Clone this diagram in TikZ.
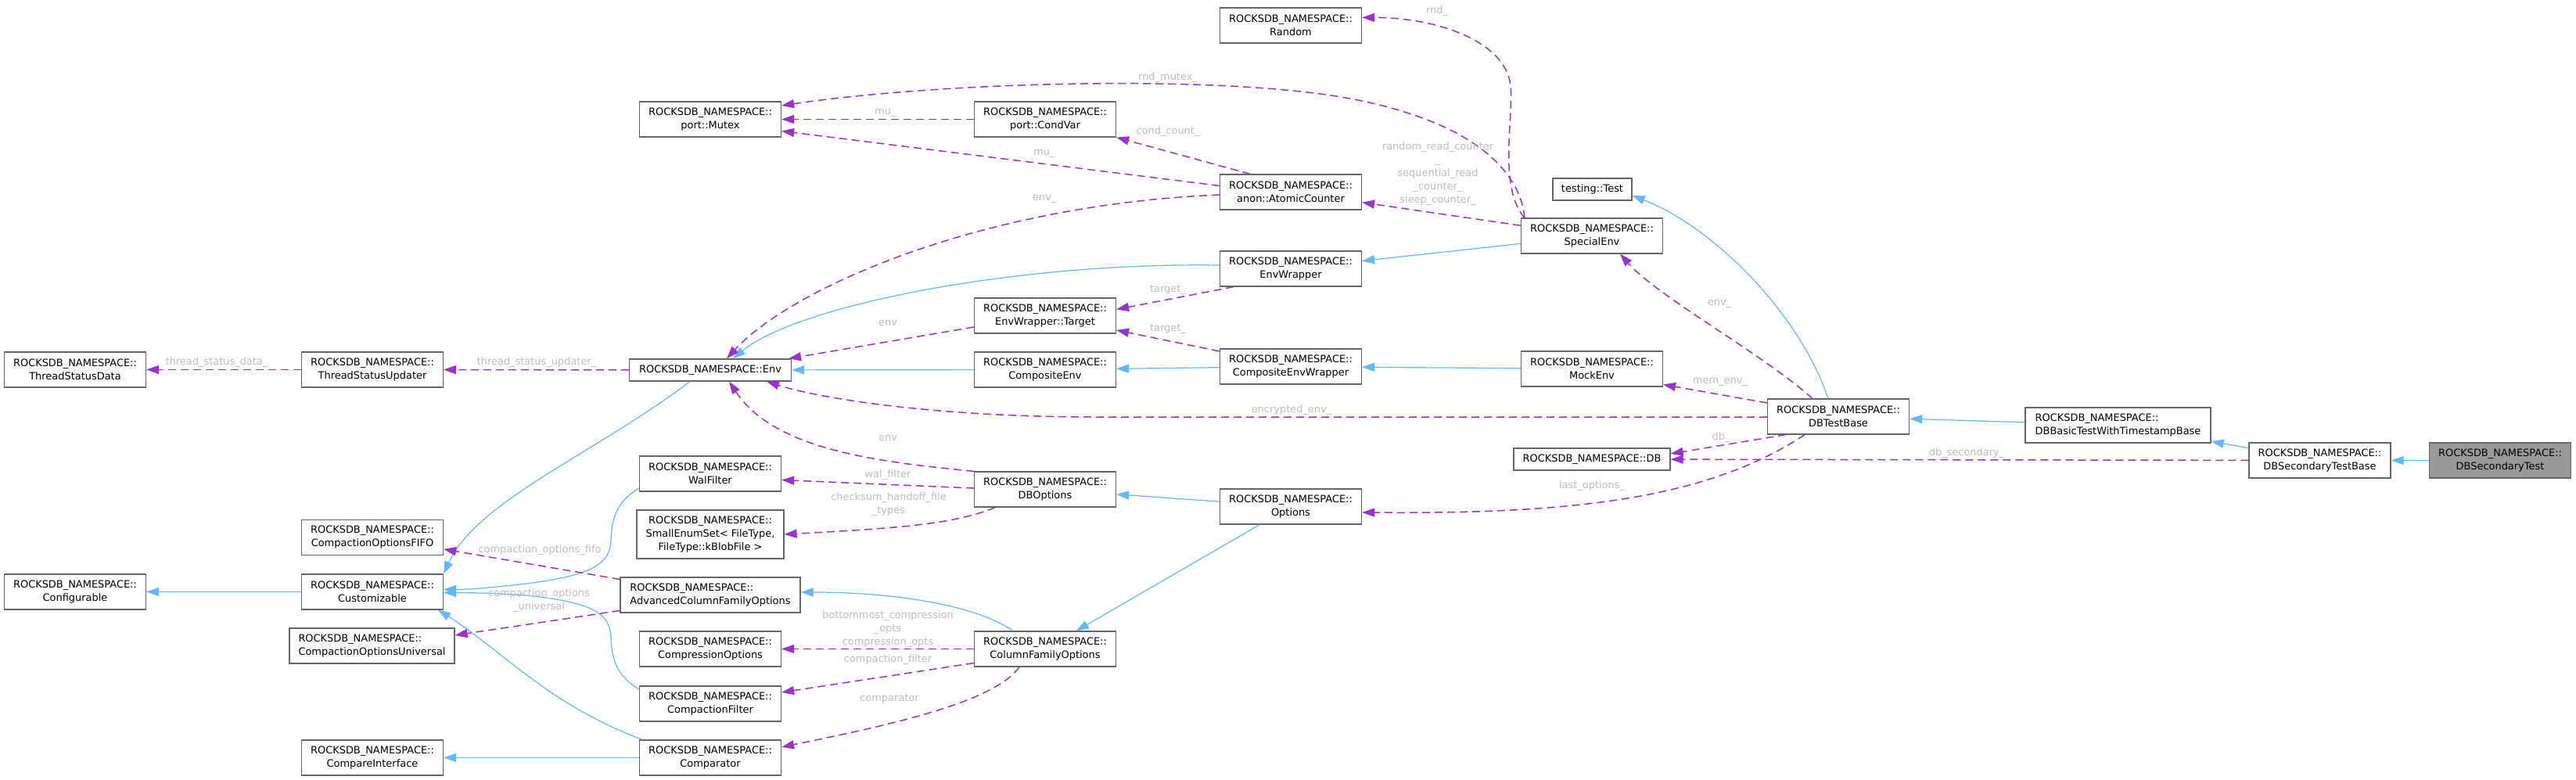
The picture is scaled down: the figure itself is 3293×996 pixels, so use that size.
\documentclass[tikz,border=0pt]{standalone}
\usepackage{fontspec}
\setmainfont{DejaVu Sans}
\usetikzlibrary{arrows.meta}
\definecolor{boxborder}{HTML}{666666}
\definecolor{inh}{HTML}{63B8FF}
\definecolor{usec}{HTML}{9A32CD}
\definecolor{lbl}{HTML}{BEBEBE}
\definecolor{selfill}{HTML}{999999}
\begin{document}
\begin{tikzpicture}[x=1pt,y=-1pt,
  cls/.style={draw=boxborder, line width=1.2pt, fill=white, minimum width=181pt, minimum height=45pt, inner sep=0pt, align=center, font=\fontsize{12.94}{17}\selectfont},
  one/.style={cls, minimum height=28pt},
  inhedge/.style={draw=inh, line width=1.2pt, -{Triangle[length=16pt,width=11pt]}},
  useedge/.style={draw=usec, line width=1.5pt, dash pattern=on 10pt off 6pt, -{Triangle[length=16pt,width=11pt]}},
  elabel/.style={text=lbl, inner sep=0pt, align=center, font=\fontsize{12.94}{17}\selectfont},
]
\fill[white] (0,0) rectangle (3293,996);
\useasboundingbox (0,0) rectangle (3293,996);

% nodes
\node[cls] (tsd) at (96,472.5) {ROCKSDB\_NAMESPACE::\\ThreadStatusData};
\node[cls] (tsu) at (476,472.5) {ROCKSDB\_NAMESPACE::\\ThreadStatusUpdater};
\node[one, minimum width=207pt] (env) at (908,473) {ROCKSDB\_NAMESPACE::Env};
\node[cls] (mutex) at (908,152.5) {ROCKSDB\_NAMESPACE::\\port::Mutex};
\node[cls] (random) at (1650,32.5) {ROCKSDB\_NAMESPACE::\\Random};
\node[cls] (condvar) at (1336,152.5) {ROCKSDB\_NAMESPACE::\\port::CondVar};
\node[cls] (atomic) at (1650,245.5) {ROCKSDB\_NAMESPACE::\\anon::AtomicCounter};
\node[cls] (special) at (2035,301.5) {ROCKSDB\_NAMESPACE::\\SpecialEnv};
\node[one, minimum width=101pt] (test) at (2035.5,242) {testing::Test};
\node[cls] (envwrap) at (1650,343.5) {ROCKSDB\_NAMESPACE::\\EnvWrapper};
\node[cls] (target) at (1336,403.5) {ROCKSDB\_NAMESPACE::\\EnvWrapper::Target};
\node[cls] (cew) at (1650,468.5) {ROCKSDB\_NAMESPACE::\\CompositeEnvWrapper};
\node[cls] (cenv) at (1336,472.5) {ROCKSDB\_NAMESPACE::\\CompositeEnv};
\node[cls] (mock) at (2035,471.5) {ROCKSDB\_NAMESPACE::\\MockEnv};
\node[cls] (walf) at (908,605.5) {ROCKSDB\_NAMESPACE::\\WalFilter};
\node[cls, minimum width=188pt, minimum height=62pt] (sset) at (908,683) {ROCKSDB\_NAMESPACE::\\SmallEnumSet< FileType,\\FileType::kBlobFile >};
\node[cls] (fifo) at (476,687) {ROCKSDB\_NAMESPACE::\\CompactionOptionsFIFO};
\node[cls] (conf) at (96,756.5) {ROCKSDB\_NAMESPACE::\\Configurable};
\node[cls] (cust) at (476,756.5) {ROCKSDB\_NAMESPACE::\\Customizable};
\node[cls, minimum width=230pt, align=left] (acfo) at (908,760.5) {ROCKSDB\_NAMESPACE::\\AdvancedColumnFamilyOptions};
\node[cls, minimum width=211pt, align=left] (univ) at (475.5,825.5) {ROCKSDB\_NAMESPACE::\\CompactionOptionsUniversal};
\node[cls] (compr) at (908,829.5) {ROCKSDB\_NAMESPACE::\\CompressionOptions};
\node[cls] (cfilt) at (908,899.5) {ROCKSDB\_NAMESPACE::\\CompactionFilter};
\node[cls] (cmpi) at (476,968.5) {ROCKSDB\_NAMESPACE::\\CompareInterface};
\node[cls] (cmp) at (908,968.5) {ROCKSDB\_NAMESPACE::\\Comparator};
\node[one, minimum width=200pt] (db) at (2035,587) {ROCKSDB\_NAMESPACE::DB};
\node[cls] (dbopt) at (1336,625.5) {ROCKSDB\_NAMESPACE::\\DBOptions};
\node[cls] (opts) at (1650,647.5) {ROCKSDB\_NAMESPACE::\\Options};
\node[cls] (cfo) at (1336,829.5) {ROCKSDB\_NAMESPACE::\\ColumnFamilyOptions};
\node[cls] (dbtb) at (2350,532.5) {ROCKSDB\_NAMESPACE::\\DBTestBase};
\node[cls, minimum width=237pt, align=left] (dbbt) at (2707.5,543.5) {ROCKSDB\_NAMESPACE::\\DBBasicTestWithTimestampBase};
\node[cls] (dbstb) at (2965.5,588.5) {ROCKSDB\_NAMESPACE::\\DBSecondaryTestBase};
\node[cls, fill=selfill] (dbst) at (3196,588.5) {ROCKSDB\_NAMESPACE::\\DBSecondaryTest};

% inheritance edges
\draw[inhedge] (cust) -- (conf);
\draw[inhedge] (cmp) -- (cmpi);
\draw[inhedge] (cenv) -- (env);
\draw[inhedge] (cew) -- (cenv);
\draw[inhedge] (mock) -- (cew);
\draw[inhedge] (special) -- (envwrap);
\draw[inhedge] (opts) -- (dbopt);
\draw[inhedge] (opts) -- (cfo);
\draw[inhedge] (dbbt) -- (dbtb);
\draw[inhedge] (dbstb) -- (dbbt);
\draw[inhedge] (dbst) -- (dbstb);
\draw[inhedge] ([xshift=-26pt]env.south) .. controls (760,580) and (610,640) .. (cust.north east);
\draw[inhedge] ([yshift=-18.5pt]walf.west) .. controls (790,640) and (782,660) .. (781,690) .. controls (780,720) and (760,735) .. (673,746) .. controls (630,751) and (600,753.5) .. ([yshift=3pt]cust.east);
\draw[inhedge] ([yshift=18.5pt]cfilt.west) .. controls (790,865) and (782,845) .. (781,815) .. controls (780,785) and (760,770) .. (673,761) .. controls (630,758) and (600,757.5) .. ([yshift=-1pt]cust.east);
\draw[inhedge] ([xshift=-87pt]cmp.north) .. controls (700,900) and (640,830) .. ([xshift=84pt]cust.south);
\draw[inhedge] ([xshift=-41pt]cfo.north) .. controls (1250,775) and (1150,757) .. ([yshift=3.5pt]acfo.east);
\draw[inhedge] ([yshift=4.5pt]envwrap.west) .. controls (1300,335) and (1020,390) .. ([xshift=29pt]env.north);
\draw[inhedge] ([xshift=-13pt]dbtb.north) .. controls (2300,400) and (2190,290) .. ([yshift=-8pt]test.east);

% usage edges
\draw[useedge] (tsu) -- (tsd);
\draw[useedge] (env) -- (tsu);
\draw[useedge] (condvar) -- (mutex);
\draw[useedge] ([yshift=8pt]atomic.west) -- ([yshift=-15pt]mutex.east);
\draw[useedge] ([xshift=-52pt]atomic.north) -- (condvar.south east);
\draw[useedge] ([yshift=-3.5pt]atomic.west) .. controls (1250,262) and (1010,370) .. ([xshift=21pt]env.north);
\draw[useedge] (special) -- (atomic);
\draw[useedge] ([xshift=5pt]special.north west) .. controls (1915,240) and (1935,150) .. (1931,110) .. controls (1925,50) and (1830,22) .. ([yshift=10pt]random.east);
\draw[useedge] ([xshift=5pt]special.north west) .. controls (1945,230) and (1900,160) .. (1731,127) .. controls (1562,94) and (1200,105) .. ([yshift=17.5pt]mutex.east);
\draw[useedge] ([xshift=-73pt]envwrap.south) -- ([yshift=8pt]target.east);
\draw[useedge] ([yshift=19.5pt]cew.west) -- ([yshift=-18.5pt]target.east);
\draw[useedge] ([yshift=-14.5pt]target.west) -- ([xshift=-4pt]env.north east);
\draw[useedge] (dbopt.north west) .. controls (1120,590) and (990,575) .. ([xshift=24pt]env.south);
\draw[useedge] ([yshift=-0.5pt]dbtb.west) -- (1400,533) .. controls (1200,533) and (1050,510) .. ([xshift=72pt]env.south);
\draw[useedge] ([yshift=1.5pt]dbopt.west) -- ([yshift=-8pt]walf.east);
\draw[useedge] ([xshift=-64pt]dbopt.south) .. controls (1220,670) and (1150,675) .. (sset.east);
\draw[useedge] ([yshift=20pt]acfo.west) -- ([yshift=-15pt]fifo.east);
\draw[useedge] ([yshift=-20pt]acfo.west) -- ([yshift=13.5pt]univ.east);
\draw[useedge] (cfo) -- (compr);
\draw[useedge] ([yshift=-18pt]cfo.west) -- ([yshift=14.5pt]cfilt.east);
\draw[useedge] ([xshift=-33pt]cfo.south) .. controls (1270,900) and (1120,930) .. ([yshift=13.5pt]cmp.east);
\draw[useedge] ([xshift=-43pt]dbtb.south) .. controls (2180,640) and (2000,657) .. ([yshift=-7.5pt]opts.east);
\draw[useedge] ([xshift=-67pt]dbtb.south) -- ([yshift=7pt]db.east);
\draw[useedge] (dbstb) -- (db);
\draw[useedge] ([yshift=17.5pt]dbtb.west) -- ([yshift=3pt]mock.south east);
\draw[useedge] ([xshift=-33pt]dbtb.north) .. controls (2250,450) and (2120,380) .. ([xshift=36pt]special.south);

% edge labels
\node[elabel] (lA) at (277,463) {thread\_status\_data\_};
\node[elabel] (lB) at (686,463) {thread\_status\_updater\_};
\node[elabel] (lC) at (1837,14) {rnd\_};
\node[elabel] (lD) at (1493,99) {rnd\_mutex\_};
\node[elabel] (lE) at (1132,144) {mu\_};
\node[elabel] (lF) at (1493,168) {cond\_count\_};
\node[elabel] (lG) at (1335,196) {mu\_};
\node[elabel] (lH) at (1838,222) {random\_read\_counter\\\_\\sequential\_read\\\_counter\_\\sleep\_counter\_};
\node[elabel] (lI) at (1335,254) {env\_};
\node[elabel] (lJ) at (1493,370) {target\_};
\node[elabel] (lK) at (1135,413) {env};
\node[elabel] (lL) at (1493,420) {target\_};
\node[elabel] (lM) at (1651,524) {encrypted\_env\_};
\node[elabel] (lN) at (2198,388) {env\_};
\node[elabel] (lO) at (2199,488) {mem\_env\_};
\node[elabel] (lP) at (2200,559) {db\_};
\node[elabel] (lQ) at (2514,579) {db\_secondary\_};
\node[elabel] (lR) at (2035,621) {last\_options\_};
\node[elabel] (lS) at (1135,560) {env};
\node[elabel] (lT) at (1135,607) {wal\_filter};
\node[elabel] (lU) at (1136,645) {checksum\_handoff\_file\\\_types};
\node[elabel] (lV) at (690,703) {compaction\_options\_fifo};
\node[elabel] (lW) at (689,768) {compaction\_options\\\_universal};
\node[elabel] (lX) at (1135,804) {bottommost\_compression\\\_opts\\compression\_opts};
\node[elabel] (lY) at (1135,843) {compaction\_filter};
\node[elabel] (lZ) at (1137,893) {comparator};
\end{tikzpicture}
\end{document}
